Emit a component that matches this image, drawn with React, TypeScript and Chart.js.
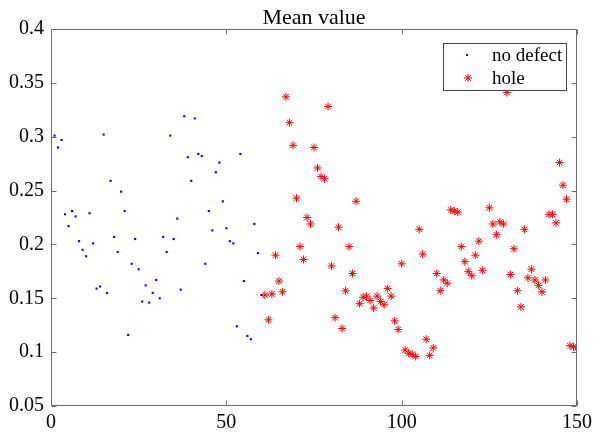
import React, { useEffect, useRef } from "react";
import { Chart, registerables } from "chart.js";

Chart.register(...registerables);

const titleText = "Mean value";
const seriesNames = ["no defect", "hole"];

const xTicks = [0, 50, 100, 150];
const xTickLabels = ["0", "50", "100", "150"];
const yTicks = [0.05, 0.1, 0.15, 0.2, 0.25, 0.3, 0.35, 0.4];
const yTickLabels = ["0.05", "0.1", "0.15", "0.2", "0.25", "0.3", "0.35", "0.4"];

const noDefectX = [
  1, 2, 3, 4, 5, 6, 7, 8, 9, 10, 11, 12, 13, 14, 15, 16, 17, 18, 19, 20,
  21, 22, 23, 24, 25, 26, 27, 28, 29, 30, 31, 32, 33, 34, 35, 36, 37, 38, 39, 40,
  41, 42, 43, 44, 45, 46, 47, 48, 49, 50, 51, 52, 53, 54, 55, 56, 57, 58, 59, 60,
];
const noDefectY = [
  0.301, 0.29, 0.297, 0.228, 0.217, 0.231, 0.226, 0.203, 0.195, 0.189,
  0.229, 0.201, 0.159, 0.161, 0.302, 0.155, 0.259, 0.207, 0.193, 0.249,
  0.231, 0.116, 0.182, 0.205, 0.177, 0.147, 0.162, 0.146, 0.155, 0.167,
  0.15, 0.207, 0.193, 0.301, 0.205, 0.224, 0.158, 0.319, 0.281, 0.259,
  0.317, 0.284, 0.282, 0.182, 0.231, 0.213, 0.267, 0.276, 0.24, 0.215,
  0.203, 0.201, 0.124, 0.284, 0.166, 0.115, 0.112, 0.219, 0.192, 0.153,
];

const holeX = [
  61, 62, 63, 64, 65, 66, 67, 68, 69, 70, 71, 72, 73, 74, 75, 76, 77, 78, 79, 80,
  81, 82, 83, 84, 85, 86, 87, 88, 89, 90, 91, 92, 93, 94, 95, 96, 97, 98, 99, 100,
  101, 102, 103, 104, 105, 106, 107, 108, 109, 110, 111, 112, 113, 114, 115, 116, 117, 118, 119, 120,
  121, 122, 123, 125, 126, 127, 128, 129, 130, 131, 132, 133, 134, 135, 136, 137, 138, 139, 140,
  141, 142, 143, 144, 145, 146, 147, 148, 149, 150,
];
const holeY = [
  0.153, 0.13, 0.154, 0.19, 0.166, 0.156, 0.337, 0.313, 0.292, 0.243,
  0.198, 0.186, 0.225, 0.219, 0.29, 0.271, 0.263, 0.261, 0.328, 0.18,
  0.132, 0.216, 0.122, 0.157, 0.198, 0.173, 0.24, 0.145, 0.151, 0.152,
  0.148, 0.141, 0.152, 0.147, 0.144, 0.159, 0.152, 0.129, 0.121, 0.182,
  0.102, 0.099, 0.098, 0.096, 0.214, 0.191, 0.112, 0.097, 0.104, 0.173,
  0.157, 0.167, 0.164, 0.232, 0.231, 0.23, 0.198, 0.184, 0.175, 0.171,
  0.19, 0.203, 0.176, 0.234, 0.219, 0.209, 0.221, 0.219, 0.341, 0.172,
  0.196, 0.157, 0.142, 0.214, 0.169, 0.177, 0.167, 0.162, 0.156,
  0.167, 0.228, 0.228, 0.22, 0.276, 0.255, 0.242, 0.106, 0.105, 0.104,
];

const FONT = '"Liberation Serif", "Times New Roman", serif';
const BLUE = "#0000ff";
const RED = "#ff0000";
const AXIS = "#6e6e6e";

function drawAsterisk(ctx: CanvasRenderingContext2D, x: number, y: number, r: number) {
  const d = r * Math.SQRT1_2;
  ctx.beginPath();
  ctx.moveTo(x - r, y);
  ctx.lineTo(x + r, y);
  ctx.moveTo(x, y - r);
  ctx.lineTo(x, y + r);
  ctx.moveTo(x - d, y - d);
  ctx.lineTo(x + d, y + d);
  ctx.moveTo(x - d, y + d);
  ctx.lineTo(x + d, y - d);
  ctx.stroke();
}

const framePlugin = {
  id: "matlabFrame",
  afterDatasetsDraw(chart: any) {
    const ctx: CanvasRenderingContext2D = chart.ctx;
    const { left, right, top, bottom } = chart.chartArea;
    const L = Math.round(left) + 0.5;
    const R = Math.round(right) - 0.5;
    const T = Math.round(top) + 0.5;
    const B = Math.round(bottom) - 0.5;
    ctx.save();

    // legend box
    const lx = 443, ly = 43, lw = 123, lh = 47;
    ctx.fillStyle = "#ffffff";
    ctx.fillRect(lx, ly, lw, lh);
    ctx.strokeStyle = "#444444";
    ctx.lineWidth = 1;
    ctx.strokeRect(lx + 0.5, ly + 0.5, lw, lh);
    ctx.fillStyle = BLUE;
    ctx.fillRect(466, 54, 2, 2);
    ctx.strokeStyle = RED;
    ctx.lineWidth = 1;
    drawAsterisk(ctx, 468, 78, 4);
    ctx.fillStyle = "#000000";
    ctx.font = `19px ${FONT}`;
    ctx.textAlign = "left";
    ctx.textBaseline = "middle";
    ctx.fillText(seriesNames[0], 492, 56);
    ctx.fillText(seriesNames[1], 492, 79);

    // axes frame
    ctx.strokeStyle = AXIS;
    ctx.lineWidth = 1;
    ctx.strokeRect(L, T, R - L, B - T);
    const tl = 5;
    ctx.beginPath();
    const xs = chart.scales.x;
    const ys = chart.scales.y;
    xTicks.forEach((v) => {
      const px = Math.round(xs.getPixelForValue(v)) + 0.5;
      ctx.moveTo(px, B);
      ctx.lineTo(px, B - tl);
      ctx.moveTo(px, T);
      ctx.lineTo(px, T + tl);
    });
    yTicks.forEach((v) => {
      const py = Math.round(ys.getPixelForValue(v)) + 0.5;
      ctx.moveTo(L, py);
      ctx.lineTo(L + tl, py);
      ctx.moveTo(R, py);
      ctx.lineTo(R - tl, py);
    });
    ctx.stroke();

    // title
    ctx.fillStyle = "#000000";
    ctx.font = `22px ${FONT}`;
    ctx.textAlign = "center";
    ctx.textBaseline = "alphabetic";
    ctx.fillText(titleText, (left + right) / 2, 24);
    ctx.restore();
  },
};

export default function App() {
  const canvasRef = useRef<HTMLCanvasElement | null>(null);

  useEffect(() => {
    document.body.style.margin = "0";
    const canvas = canvasRef.current;
    if (!canvas) return;
    const chart = new Chart(canvas, {
      type: "scatter",
      data: {
        datasets: [
          {
            label: seriesNames[0],
            data: noDefectX.map((x, i) => ({ x, y: noDefectY[i] })),
            pointStyle: "rect",
            pointRadius: 1.5,
            pointBorderWidth: 0,
            backgroundColor: BLUE,
            borderColor: BLUE,
          },
          {
            label: seriesNames[1],
            data: holeX.map((x, i) => ({ x, y: holeY[i] })),
            pointStyle: "star",
            pointRadius: 4,
            pointBorderWidth: 1,
            backgroundColor: RED,
            borderColor: RED,
          },
        ],
      },
      options: {
        animation: false,
        responsive: false,
        events: [],
        layout: { padding: { top: 29, right: 23, left: 0, bottom: 0 } },
        plugins: {
          legend: { display: false },
          title: { display: false },
          tooltip: { enabled: false },
        },
        scales: {
          x: {
            type: "linear",
            min: 0,
            max: 150,
            afterBuildTicks: (s: any) => {
              s.ticks = xTicks.map((v) => ({ value: v }));
            },
            afterFit: (s: any) => {
              s.height = 35;
            },
            grid: { display: false, drawTicks: false },
            border: { display: false },
            ticks: {
              autoSkip: false,
              maxRotation: 0,
              padding: 5,
              color: "#000000",
              font: { family: FONT, size: 20 },
              callback: (v: any) => {
                const i = xTicks.indexOf(Number(v));
                return i >= 0 ? xTickLabels[i] : "";
              },
            },
          },
          y: {
            type: "linear",
            min: 0.05,
            max: 0.4,
            afterBuildTicks: (s: any) => {
              s.ticks = yTicks.map((v) => ({ value: v }));
            },
            afterFit: (s: any) => {
              s.width = 51;
            },
            grid: { display: false, drawTicks: false },
            border: { display: false },
            ticks: {
              autoSkip: false,
              padding: 7,
              color: "#000000",
              font: { family: FONT, size: 20 },
              callback: (v: any) => {
                const i = yTicks.findIndex((t) => Math.abs(t - Number(v)) < 1e-9);
                return i >= 0 ? yTickLabels[i] : "";
              },
            },
          },
        },
      },
      plugins: [framePlugin],
    });
    return () => chart.destroy();
  }, []);

  return (
    <div style={{ width: 600, height: 441, background: "#ffffff" }}>
      <canvas ref={canvasRef} width={600} height={441} />
    </div>
  );
}
